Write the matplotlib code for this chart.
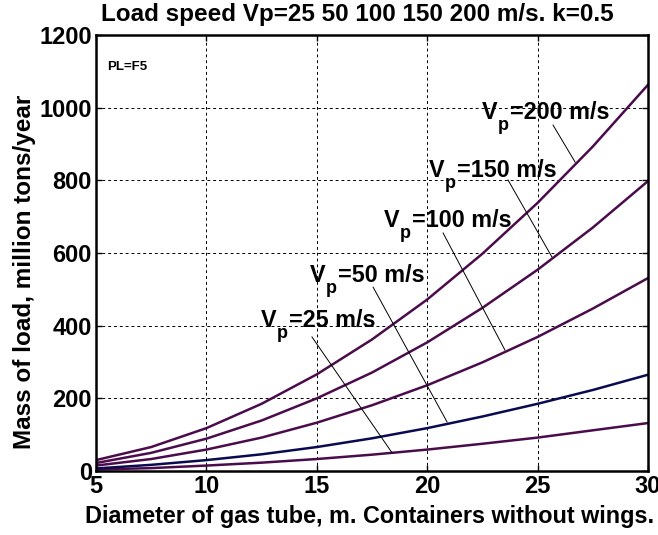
import numpy as np
import matplotlib
matplotlib.use('Agg')
import matplotlib.pyplot as plt

plt.rcParams['font.family'] = ['Liberation Sans', 'DejaVu Sans']
plt.rcParams['font.weight'] = 'bold'

# diameter of gas tube, m
diam = [5, 7.5, 10, 12.5, 15, 17.5, 20, 22.5, 25, 27.5, 30]
# mass of load, million tons/year
m200 = [30, 66, 118, 185, 266, 362, 472, 598, 738, 893, 1063]
m150 = [22, 50, 89, 139, 200, 271, 354, 449, 554, 670, 798]
m100 = [15, 33, 59, 92, 133, 181, 236, 299, 369, 447, 531]
m50 = [7, 17, 30, 46, 66, 90, 118, 150, 185, 223, 265]
m25 = [4, 8, 15, 23, 33, 45, 59, 75, 92, 112, 132]
speeds = ['200', '150', '100', '50', '25']

purple = '#4a0c4a'
navy = '#0a0a50'

fig = plt.figure(figsize=(6.58, 5.35), dpi=100)
ax = fig.add_axes([0.1459, 0.1196, 0.8389, 0.815])

ax.plot(diam, m25, color=purple, lw=1.8)
ax.plot(diam, m50, color=navy, lw=1.8)
ax.plot(diam, m100, color=purple, lw=1.8)
ax.plot(diam, m150, color=purple, lw=1.8)
ax.plot(diam, m200, color=purple, lw=1.8)

# labels: text position, pointer start, pointer end
lab_xy = [(22.48, 969), (20.08, 809), (18.04, 672), (14.69, 520), (12.47, 396)]
ptr = [((25.7, 952), (26.7, 850)),
       ((23.66, 801), (25.65, 589)),
       ((20.72, 655), (23.52, 333)),
       ((17.55, 506), (20.9, 135)),
       ((14.78, 369), (18.41, 50))]
for s, (tx, ty), (p0, p1) in zip(speeds, lab_xy, ptr):
    ax.text(tx, ty, 'V', fontsize=16.8, fontweight='bold')
    ax.annotate('p', (tx, ty), xytext=(11.5, -8), textcoords='offset points',
                fontsize=13, fontweight='bold')
    ax.annotate('=' + s + ' m/s', (tx, ty), xytext=(20, 0), textcoords='offset points',
                fontsize=16.8, fontweight='bold')
    ax.plot([p0[0], p1[0]], [p0[1], p1[1]], color='black', lw=0.7)

ax.text(5.5, 1105, 'PL=F5', fontsize=9.5, fontweight='bold')

ax.set_xlim(5, 30)
ax.set_ylim(0, 1200)
ax.set_xticks([5, 10, 15, 20, 25, 30])
ax.set_yticks([0, 200, 400, 600, 800, 1000, 1200])
ax.grid(True, color='black', linestyle=(0, (3, 3)), lw=0.7)
ax.tick_params(direction='in', top=True, right=True, labelsize=17, width=1, length=4, pad=3)
for t in ax.get_xticklabels() + ax.get_yticklabels():
    t.set_fontweight('bold')
for sp in ax.spines.values():
    sp.set_linewidth(1.8)

fig.text(357 / 658, 1 - 14 / 535, 'Load speed Vp=25 50 100 150 200 m/s. k=0.5',
         fontsize=17.5, fontweight='bold', ha='center', va='center')
fig.text(370 / 658, 1 - 516 / 535, 'Diameter of gas tube, m. Containers without wings.',
         fontsize=16.8, fontweight='bold', ha='center', va='center')
fig.text(25 / 658, 1 - 272 / 535, 'Mass of load, million tons/year',
         fontsize=17.5, fontweight='bold', ha='center', va='center', rotation=90)

fig.savefig('out.png', dpi=100)
